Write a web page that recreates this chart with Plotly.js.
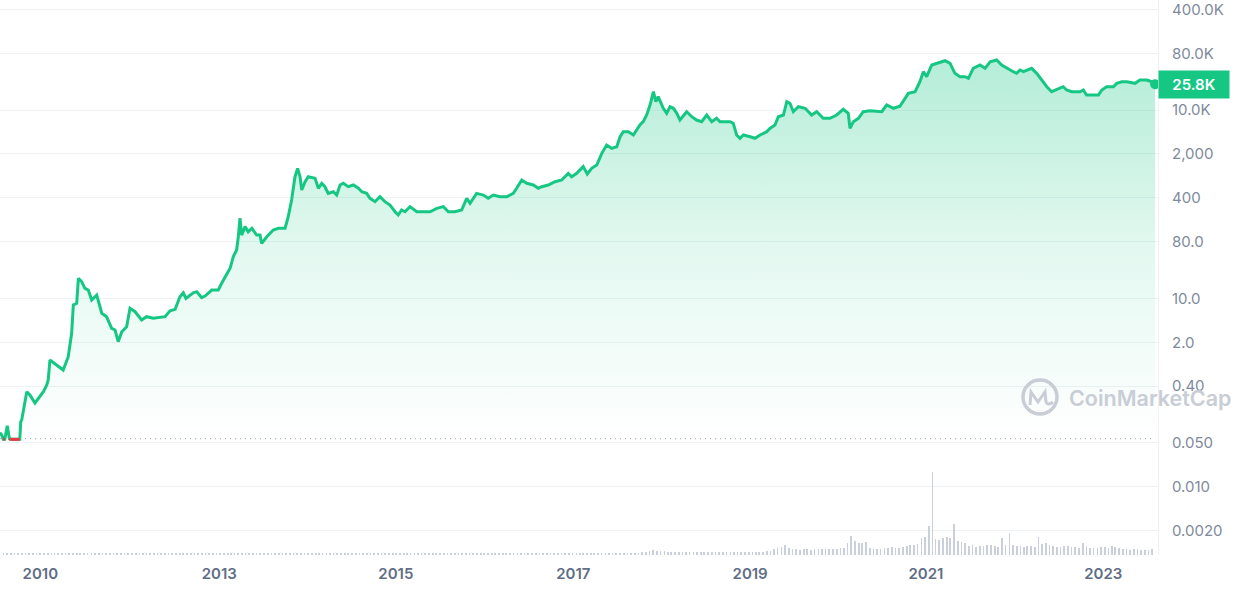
<!DOCTYPE html>
<html>
<head>
<meta charset="utf-8">
<script src="https://cdn.plot.ly/plotly-3.0.1.min.js"></script>
<style>
html,body{margin:0;padding:0;background:#fff;}
#chart{width:1242px;height:594px;}
</style>
</head>
<body>
<div id="chart"></div>
<script>
// ---- Price series (USD, log scale) ----
const priceDates = [
'2010-07-18','2010-07-25','2010-07-31','2010-08-07','2010-08-17','2010-08-26','2010-08-30','2010-10-08','2010-10-12','2010-10-16',
'2010-11-06','2010-11-19','2010-12-10','2010-12-31','2011-01-14','2011-01-28','2011-02-03','2011-02-10','2011-04-06','2011-04-27',
'2011-05-11','2011-05-18','2011-06-01','2011-06-08','2011-06-22','2011-07-05','2011-07-19','2011-08-02','2011-08-23','2011-09-13',
'2011-10-03','2011-10-24','2011-11-07','2011-11-20','2011-12-05','2011-12-25','2012-01-08','2012-01-29','2012-02-25','2012-03-17',
'2012-04-14','2012-06-01','2012-06-22','2012-07-13','2012-08-02','2012-08-16','2012-08-27','2012-09-26','2012-10-11','2012-10-31',
'2012-11-14','2012-12-12','2013-01-08','2013-01-22','2013-02-12','2013-02-26','2013-03-11','2013-03-25','2013-04-01','2013-04-08',
'2013-04-15','2013-04-29','2013-05-12','2013-05-27','2013-06-16','2013-06-30','2013-07-07','2013-07-28','2013-08-24','2013-09-14',
'2013-10-12','2013-10-25','2013-11-08','2013-11-22','2013-12-03','2013-12-13','2013-12-20','2014-01-03','2014-01-16','2014-02-13',
'2014-02-27','2014-03-13','2014-03-26','2014-04-09','2014-04-30','2014-05-14','2014-05-28','2014-06-10','2014-07-01','2014-07-22',
'2014-08-12','2014-08-26','2014-09-15','2014-09-29','2014-10-20','2014-11-09','2014-11-30','2014-12-21','2015-01-11','2015-01-24',
'2015-02-07','2015-02-21','2015-03-14','2015-04-11','2015-05-01','2015-06-05','2015-07-03','2015-07-30','2015-08-20','2015-09-16',
'2015-10-14','2015-11-04','2015-11-18','2015-12-15','2016-01-12','2016-02-01','2016-02-22','2016-03-21','2016-04-18','2016-05-15',
'2016-05-29','2016-06-12','2016-06-19','2016-07-10','2016-08-06','2016-08-27','2016-09-10','2016-10-07','2016-11-04','2016-12-02',
'2016-12-29','2017-01-12','2017-02-02','2017-03-01','2017-03-18','2017-04-05','2017-04-26','2017-05-17','2017-06-06','2017-06-27',
'2017-07-18','2017-08-01','2017-08-14','2017-09-04','2017-09-25','2017-10-22','2017-11-05','2017-11-19','2017-12-03','2017-12-17',
'2017-12-27','2018-01-06','2018-01-27','2018-02-10','2018-02-24','2018-03-10','2018-03-24','2018-04-06','2018-05-04','2018-05-25',
'2018-06-14','2018-07-05','2018-07-26','2018-08-16','2018-09-05','2018-09-19','2018-10-31','2018-11-13','2018-11-27','2018-12-11',
'2018-12-25','2019-01-22','2019-02-11','2019-03-04','2019-04-01','2019-04-14','2019-05-05','2019-05-19','2019-06-09','2019-06-23',
'2019-07-06','2019-07-20','2019-08-10','2019-09-07','2019-10-04','2019-10-25','2019-11-21','2019-12-19','2020-01-16','2020-02-12',
'2020-03-04','2020-03-11','2020-03-25','2020-04-15','2020-05-05','2020-06-02','2020-06-30','2020-07-21','2020-08-10','2020-09-07',
'2020-10-04','2020-11-08','2020-12-06','2020-12-26','2021-01-09','2021-01-23','2021-02-13','2021-03-06','2021-03-19','2021-04-09',
'2021-04-30','2021-05-20','2021-06-10','2021-07-01','2021-07-15','2021-08-04','2021-09-01','2021-09-22','2021-10-13','2021-11-09',
'2021-11-30','2021-12-21','2022-01-17','2022-01-31','2022-02-14','2022-02-28','2022-03-20','2022-04-03','2022-04-24','2022-05-15',
'2022-06-05','2022-06-25','2022-07-23','2022-08-12','2022-08-26','2022-09-16','2022-10-21','2022-11-03','2022-11-17','2022-12-15',
'2023-01-05','2023-01-19','2023-02-08','2023-03-08','2023-03-22','2023-04-12','2023-05-02','2023-06-06','2023-06-26','2023-07-24',
'2023-08-14','2023-08-28'
];
const priceValues = [
0.073,0.067,0.057,0.057,0.094,0.058,0.057,0.057,0.109,0.116,
0.327,0.29,0.216,0.272,0.327,0.418,0.502,1.045,0.724,1.18,
2.78,7.85,8.36,20.9,18.4,14.5,13.6,9.4,11.3,5.8,
5.1,3.34,3.14,2.05,2.95,3.54,6.96,6.14,4.53,5.12,
4.82,5.12,6.37,6.7,10.6,12.3,10.0,12.3,12.8,10.3,
10.9,13.6,13.6,17.4,23.6,30.2,46.1,59,96,189,
102,139,115,131,102,102,75,96,123,131,
131,200,369,867,1179,867,532,722,867,818,
567,681,601,471,500,443,640,681,601,640,
567,500,471,393,347,416,347,307,240,213,
256,240,289,240,240,240,272,289,240,240,
256,393,327,471,443,393,443,416,416,471,
567,722,768,681,640,567,601,640,722,768,
981,867,981,1255,957,1179,1331,2044,2772,2455,
2604,3757,4512,4512,4000,5770,6518,8330,12020,19570,
13570,16300,10650,8860,11290,10650,8860,6930,9400,7825,
6930,6518,8330,6518,7380,6518,6518,6140,4000,3545,
4000,3757,3545,4000,4512,5093,5770,7825,8330,13570,
12790,9400,11290,10650,8330,9400,7380,7380,8330,10260,
8860,5093,6518,7380,9400,9750,9400,9400,12020,10650,
11500,18450,19570,28240,40740,33920,52070,55430,58780,60970,
55430,38420,33920,33920,31990,46140,52070,46140,58780,62560,
52070,46140,40740,38420,43360,40740,43360,46140,38420,30060,
23500,19570,22160,23500,20820,19570,19570,20820,17340,17340,
17340,20820,23500,23500,26620,28230,28230,26620,30060,30060,
28230,25800
];
const baselinePrice = 0.0583;
const lastPriceLabel = '25.8K';

// ---- Volume (billion USD), two bars per month: 1st and 16th ----
const vol2010 = [8,8,8,8,8,8,8,8,8,8]; // from August
const vol2011 = [8,8,8,8,8,8,8,8,8,8,8,8,8,8,8,8,8,8,8,8,8,8,8,8];
const vol2012 = [8,8,8,8,8,8,8,8,8,8,8,8,8,8,8,8,8,8,8,8,8,8,8,8];
const vol2013 = [8,8,8,8,8,8,8,8,8,8,8,8,8,8,8,8,8,8,8,8,8,8,8,8];
const vol2014 = [8,8,8,8,8,8,8,8,8,8,8,8,8,8,8,8,8,8,8,8,8,8,8,8];
const vol2015 = [8,8,8,8,8,8,8,8,8,8,8,8,8,8,8,8,8,8,8,8,8,8,8,8];
const vol2016 = [8,8,8,8,8,8,8,8,8,8,8,8,8,8,8,8,8,8,8,8,8,8,8,8];
const vol2017 = [8,8,8,8,8,8,8,8,8,8,8,8,9,9,9,9,9,9,9,9,11,12,18,20];
const vol2018 = [18,16,16,14,14,13,12,12,13,12,12,11,12,12,11,12,12,12,11,12,12,13,12,12];
const vol2019 = [13,13,13,13,13,14,17,17,26,28,32,42,30,26,24,22,24,24,22,24,26,24,26,25];
const vol2020 = [26,26,28,30,48,76,55,50,48,52,30,26,24,24,28,30,32,30,30,34,38,40,40,44];
const vol2021 = [68,72,116,332,64,60,68,72,70,124,56,52,48,36,40,34,38,36,40,42,38,34,68,40];
const vol2022 = [88,40,36,38,34,36,38,34,72,44,48,40,36,34,32,36,38,34,32,30,48,36,30,28];
const vol2023 = [30,34,32,30,36,32,28,26,24,22,26,24,22,20,20,24]; // to August
const volumeByYear = [[2010,7,vol2010],[2011,0,vol2011],[2012,0,vol2012],[2013,0,vol2013],[2014,0,vol2014],
  [2015,0,vol2015],[2016,0,vol2016],[2017,0,vol2017],[2018,0,vol2018],[2019,0,vol2019],[2020,0,vol2020],
  [2021,0,vol2021],[2022,0,vol2022],[2023,0,vol2023]];

// ---- Axis labels ----
const xTickVals = ['2011-01-01','2013-01-12','2015-01-14','2017-01-19','2019-01-22','2021-01-20','2023-01-25'];
const xTickText = ['2010','2013','2015','2017','2019','2021','2023'];
const yTickVals = [400000,80000,10000,2000,400,80,10,2,0.4,0.05,0.01,0.002];
const yTickText = ['400.0K','80.0K','10.0K','2,000','400','80.0','10.0','2.0','0.40','0.050','0.010','0.0020'];

// build volume table
const volX = [], volY = [];
volumeByYear.forEach(([yr, m0, arr]) => {
  arr.forEach((v, i) => {
    const m = m0 + Math.floor(i / 2);
    const d = (i % 2 === 0) ? '01' : '16';
    volX.push(yr + '-' + String(m + 1).padStart(2, '0') + '-' + d);
    volY.push(v);
  });
});

// red segments where price is below the baseline
const redX = [], redY = [];
for (let i = 0; i < priceValues.length - 1; i++) {
  if (priceValues[i] < baselinePrice && priceValues[i + 1] < baselinePrice) {
    redX.push(priceDates[i], priceDates[i + 1], null);
    redY.push(priceValues[i], priceValues[i + 1], null);
  }
}

const GREEN = '#16c784';
const lastIdx = priceValues.length - 1;

const traces = [
  {
    type: 'bar', x: volX, y: volY, yaxis: 'y2',
    width: 7 * 24 * 3600 * 1000,
    marker: { color: '#c9d0dc', line: { width: 0 } },
    hoverinfo: 'skip'
  },
  {
    type: 'scatter', mode: 'lines',
    x: [priceDates[0], priceDates[lastIdx]], y: [baselinePrice, baselinePrice],
    line: { color: '#9aa3b3', width: 1, dash: '1px,4px' },
    hoverinfo: 'skip'
  },
  {
    type: 'scatter', mode: 'lines', x: priceDates, y: priceValues,
    line: { color: GREEN, width: 3, shape: 'linear' },
    fill: 'tonexty',
    fillgradient: {
      type: 'vertical',
      colorscale: [[0, 'rgba(22,199,132,0)'], [0.5, 'rgba(22,199,132,0.12)'], [1, 'rgba(22,199,132,0.32)']]
    },
    hoverinfo: 'skip'
  },
  {
    type: 'scatter', mode: 'lines', x: redX, y: redY,
    line: { color: '#ea3943', width: 3 }, connectgaps: false, hoverinfo: 'skip'
  },
  {
    type: 'scatter', mode: 'markers', x: [priceDates[lastIdx]], y: [priceValues[lastIdx]],
    marker: { color: GREEN, size: 10 }, hoverinfo: 'skip'
  }
];

// decorative watermark helpers (pixel -> paper within the plot area)
const PW = 1158, PH = 555;
const px = (x) => x / PW, py = (y) => 1 - y / PH;
const logoPath = 'M ' + px(1030) + ' ' + py(405) + ' L ' + px(1031) + ' ' + py(392) +
  ' L ' + px(1038) + ' ' + py(402) + ' L ' + px(1045) + ' ' + py(392) +
  ' L ' + px(1046) + ' ' + py(402) + ' Q ' + px(1048) + ' ' + py(406) + ' ' + px(1053) + ' ' + py(402);

const layout = {
  width: 1242, height: 594,
  margin: { l: 0, r: 84, t: 0, b: 39, pad: 0 },
  paper_bgcolor: '#ffffff', plot_bgcolor: '#ffffff',
  showlegend: false,
  hovermode: false,
  bargap: 0,
  xaxis: {
    type: 'date', range: ['2010-07-18', '2023-09-09'],
    showgrid: false, zeroline: false, showline: false, ticks: '',
    tickvals: xTickVals, ticktext: xTickText,
    tickfont: { family: 'Inter, Roboto, sans-serif', size: 15, color: '#616e85', weight: 600 },
    ticklabelstandoff: 8, fixedrange: true
  },
  yaxis: {
    type: 'log', range: [-3.086, 5.752], side: 'right',
    tickvals: yTickVals, ticktext: yTickText,
    showgrid: true, gridcolor: '#eff2f5', gridwidth: 1,
    zeroline: false, showline: true, linecolor: '#eff2f5', linewidth: 1, ticks: '',
    tickfont: { family: 'Inter, Roboto, sans-serif', size: 15, color: '#808a9d' },
    ticklabelstandoff: 10, ticklabeloverflow: 'allow', fixedrange: true
  },
  yaxis2: {
    overlaying: 'y', side: 'right', range: [0, 2220],
    visible: false, showgrid: false, zeroline: false, fixedrange: true
  },
  shapes: [
    { type: 'circle', xref: 'paper', yref: 'paper',
      x0: px(1023), x1: px(1057), y0: py(414), y1: py(380),
      line: { color: '#c8cdd6', width: 3.5 }, layer: 'above' },
    { type: 'path', xref: 'paper', yref: 'paper', path: logoPath,
      line: { color: '#c8cdd6', width: 3 }, layer: 'above' }
  ],
  annotations: [
    { xref: 'paper', yref: 'paper', x: px(1067), y: py(398), xanchor: 'left', yanchor: 'middle',
      text: 'CoinMarketCap', showarrow: false,
      font: { family: 'Inter, Roboto, sans-serif', size: 21.5, color: '#c8cdd6', weight: 600 } },
    { xref: 'paper', yref: 'y', x: 1, y: Math.log10(priceValues[lastIdx]), xanchor: 'left', yanchor: 'middle',
      text: lastPriceLabel, showarrow: false, bgcolor: GREEN, width: 66, height: 23, borderpad: 2,
      align: 'center', font: { family: 'Inter, Roboto, sans-serif', size: 15, color: '#ffffff', weight: 600 } }
  ]
};

Plotly.newPlot('chart', traces, layout, { displayModeBar: false, staticPlot: true });
</script>
</body>
</html>
